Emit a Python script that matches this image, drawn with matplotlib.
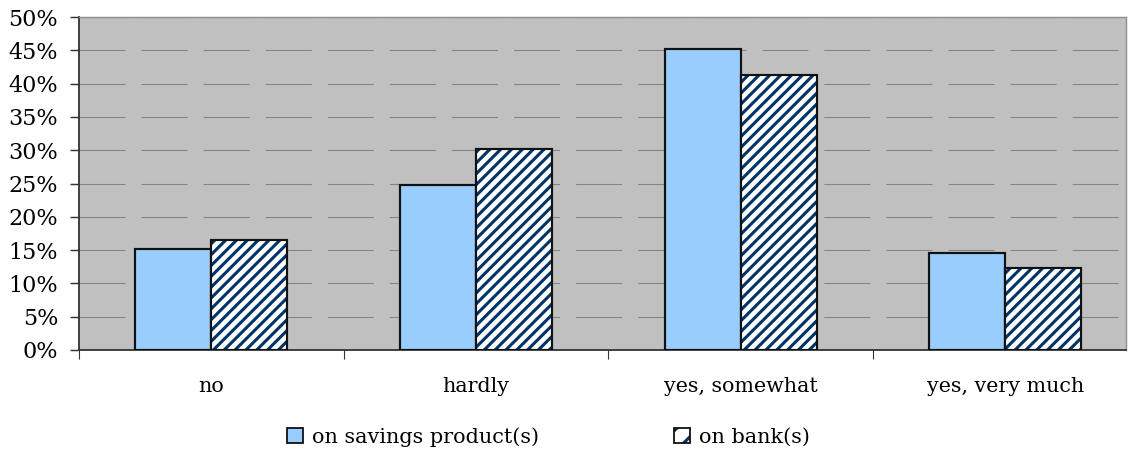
import numpy as np
import matplotlib.pyplot as plt
from matplotlib.patches import Patch

categories = ["no", "hardly", "yes, somewhat", "yes, very much"]
savings = [15.2, 24.8, 45.2, 14.5]
bank = [16.5, 30.2, 41.3, 12.3]
labels = ["on savings product(s)", "on bank(s)"]

plt.rcParams['font.family'] = ['DejaVu Serif']
plt.rcParams['hatch.linewidth'] = 1.7

navy = '#003366'
blue = '#99ccff'

dpi = 130
fig = plt.figure(figsize=(1128/dpi, 452/dpi), dpi=dpi)
ax = fig.add_axes([79/1128, 102/452, (1126-79)/1128, (350-17)/452])
ax.set_facecolor('#c0c0c0')

x = np.arange(len(categories))
w = 0.287
ax.bar(x - w/2, savings, w, color=blue, edgecolor='#111111', linewidth=1.2, zorder=3)
# hatch in navy, then a plain outline on top
ax.bar(x + w/2, bank, w, color='white', edgecolor=navy, hatch='////', linewidth=0, zorder=3)
ax.bar(x + w/2, bank, w, color='none', edgecolor='#111111', linewidth=1.2, zorder=4)

ax.set_xlim(-0.5, -0.5 + (1126-79)/264.7)
ax.set_ylim(0, 50)
ax.set_yticks(np.arange(0, 51, 5))
ax.set_yticklabels([f"{v}%" for v in range(0, 51, 5)], fontsize=12.3)
ax.yaxis.grid(True, color='#858585', linestyle=(0, (42.5, 14.8)), linewidth=0.6, zorder=0)

ax.set_xticks(x)
ax.set_xticklabels(categories, fontsize=11.4)
ax.set_xticks(np.arange(-0.5, len(categories) - 0.5), minor=True)
ax.tick_params(axis='x', which='major', length=0, pad=15)
ax.tick_params(axis='x', which='minor', length=5, color='#333333')
ax.tick_params(axis='y', length=5, color='#333333', pad=6.5)

for s in ['left', 'bottom']:
    ax.spines[s].set_color('#333333')
    ax.spines[s].set_linewidth(1.0)
for s in ['top', 'right']:
    ax.spines[s].set_color('#909090')
    ax.spines[s].set_linewidth(0.8)

handles = [Patch(facecolor=blue, edgecolor='#111111'),
           (Patch(facecolor='white', edgecolor=navy, hatch='//', linewidth=0),
            Patch(facecolor='none', edgecolor='#111111'))]
fig.legend(handles, labels, loc='center', bbox_to_anchor=(548.5/1128, 15/452), ncol=2,
           frameon=False, fontsize=11.5, handlelength=0.75, handleheight=0.75,
           handletextpad=0.45, columnspacing=6.5)

fig.savefig('out.png', dpi=dpi)
